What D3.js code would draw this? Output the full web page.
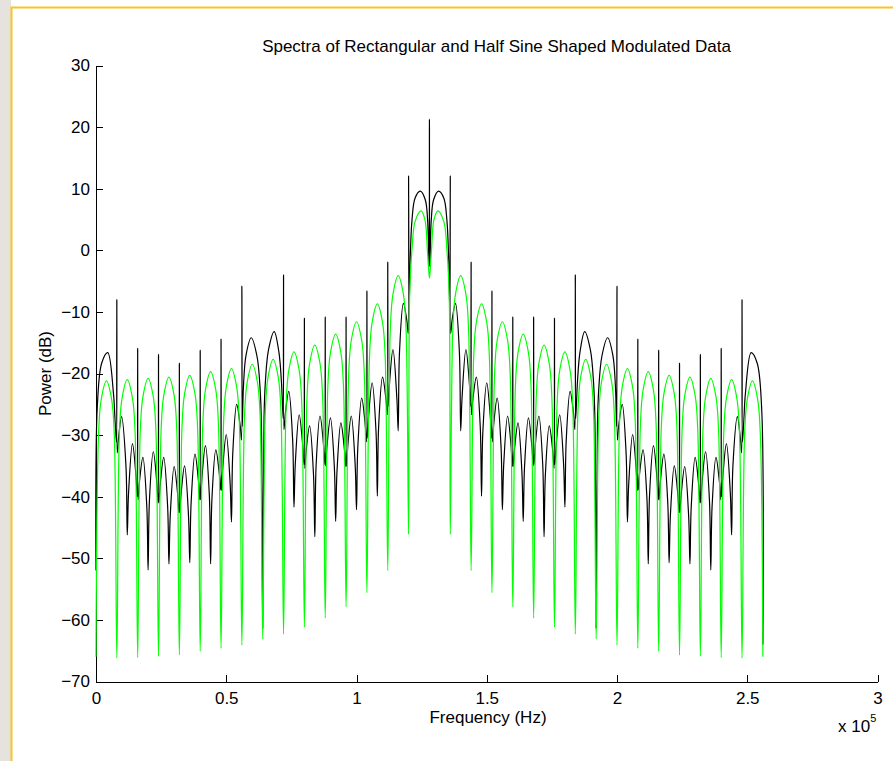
<!DOCTYPE html>
<html>
<head>
<meta charset="utf-8">
<script src="https://cdn.jsdelivr.net/npm/d3@7"></script>
<style>
  body { margin: 0; background: #fff; }
  svg { display: block; font-family: "Liberation Sans", Arial, Helvetica, sans-serif; }
  .axis text { font-size: 17px; fill: #000; }
  .axis path, .axis line { stroke: #000; }
</style>
</head>
<body>
<svg width="893" height="761"></svg>
<script>
// frequencies in kHz, power in dB
const rectFreq = [
  0, 0.5, 2.2, 4.5, 6.7, 7.3,
  7.85, 8, 8.15, 8.65, 9.8, 11.5, 12, 12.5, 14, 15.35,
  15.85, 16, 16.15, 16.65, 18, 19.5, 20, 20.5, 22, 23.35,
  23.85, 24, 24.15, 24.65, 26, 27.5, 28, 28.5, 30, 31.35,
  31.85, 32, 32.15, 32.65, 34, 35.5, 36, 36.5, 38, 39.35,
  39.85, 40, 40.15, 40.65, 42, 43.5, 44, 44.5, 46, 47.35,
  47.85, 48, 48.15, 48.65, 50, 51.5, 52, 52.5, 54, 55.35,
  55.85, 56, 56.15, 56.6, 57.6, 59.6, 61.8, 63, 63.5, 64,
  64.5, 65, 66.2, 68.4, 70.2, 71.2,
  71.85, 72, 72.15, 72.65, 74, 75.5, 76, 76.5, 78, 79.35,
  79.85, 80, 80.15, 80.65, 82, 83.5, 84, 84.5, 86, 87.35,
  87.85, 88, 88.15, 88.65, 90, 91.5, 92, 92.5, 94, 95.35,
  95.85, 96, 96.15, 96.65, 98, 99.5, 100, 100.5, 102, 103.35,
  103.85, 104, 104.15, 104.65, 106, 107.5, 108, 108.5, 110, 111.35,
  111.85, 112, 112.15, 112.65, 114, 115.5, 116, 116.5, 118, 119.35,
  119.85, 120, 120.15, 120.6, 121.3, 122.5, 124.5, 126.4, 127.3,
  127.85, 128, 128.15,
  128.7, 129.6, 131.5, 133.5, 134.7, 135.4,
  135.85, 136, 136.15, 136.65, 138, 139.5, 140, 140.5, 142, 143.35,
  143.85, 144, 144.15, 144.65, 146, 147.5, 148, 148.5, 150, 151.35,
  151.85, 152, 152.15, 152.65, 154, 155.5, 156, 156.5, 158, 159.35,
  159.85, 160, 160.15, 160.65, 162, 163.5, 164, 164.5, 166, 167.35,
  167.85, 168, 168.15, 168.65, 170, 171.5, 172, 172.5, 174, 175.35,
  175.85, 176, 176.15, 176.65, 178, 179.5, 180, 180.5, 182, 183.35,
  183.85, 184, 184.15, 184.8, 185.8, 187.6, 189.8, 191, 191.5,
  192, 192.5, 193, 194.2, 196.4, 198.4, 199.4,
  199.85, 200, 200.15, 200.65, 202, 203.5, 204, 204.5, 206, 207.35,
  207.85, 208, 208.15, 208.65, 210, 211.5, 212, 212.5, 214, 215.35,
  215.85, 216, 216.15, 216.65, 218, 219.5, 220, 220.5, 222, 223.35,
  223.85, 224, 224.15, 224.65, 226, 227.5, 228, 228.5, 230, 231.35,
  231.85, 232, 232.15, 232.65, 234, 235.5, 236, 236.5, 238, 239.35,
  239.85, 240, 240.15, 240.65, 242, 243.5, 244, 244.5, 246.2, 247.35,
  247.85, 248, 248.15, 248.7, 249.3, 251.5, 253.8, 255.5, 256
];
const rectPower = [
  -52, -25.4, -18.3, -16.6, -23.2, -27.5,
  -31.1, -8.0, -32.9, -30.5, -27.0, -35.0, -46.2, -39.4, -31.4, -36.6,
  -40.0, -15.9, -40.5, -37.7, -33.6, -41.6, -51.9, -40.7, -32.7, -37.7,
  -41.0, -16.9, -41.0, -38.0, -33.6, -41.6, -50.9, -43.1, -35.1, -39.6,
  -42.6, -18.3, -42.6, -39.6, -35.0, -43.0, -50.7, -41.1, -33.1, -37.5,
  -40.5, -16.2, -40.5, -37.0, -31.7, -39.7, -50.9, -40.4, -32.4, -36.3,
  -38.9, -14.4, -39.0, -35.4, -29.9, -37.9, -44.1, -33.0, -25.0, -28.5,
  -30.8, -5.8, -28.6, -22.1, -17.0, -14.2, -17.2, -22.5, -28.2, -61.3,
  -27.2, -21.5, -16.2, -13.2, -16.5, -21.5,
  -27.3, -4.0, -29.1, -26.6, -22.9, -30.9, -41.7, -34.7, -26.7, -31.6,
  -34.8, -11.0, -35.4, -32.6, -28.5, -36.5, -46.5, -34.9, -26.9, -31.6,
  -34.8, -10.8, -35.0, -31.9, -27.2, -35.2, -44.0, -36.0, -28.0, -32.3,
  -35.1, -10.8, -35.1, -31.8, -26.9, -34.9, -42.1, -32.0, -24.0, -28.3,
  -31.1, -6.6, -30.5, -26.9, -21.5, -29.5, -39.9, -28.6, -20.6, -24.3,
  -26.7, -1.9, -25.4, -21.7, -16.1, -24.1, -29.3, -16.6, -8.6, -11.5,
  -13.5, 12.1, -10.2, -1.6, 4.9, 8.5, 9.6, 8.2, 4.9,
  -2.6, 21.3, -2.6,
  4.9, 8.2, 9.6, 8.5, 4.9, -1.6,
  -10.2, 12.1, -13.5, -11.5, -8.6, -16.6, -29.3, -24.1, -16.1, -21.7,
  -25.4, -1.9, -26.7, -24.3, -20.6, -28.6, -39.9, -29.5, -21.5, -26.9,
  -30.5, -6.6, -31.1, -28.3, -24.0, -32.0, -42.1, -34.9, -26.9, -31.8,
  -35.1, -10.8, -35.1, -32.3, -28.0, -36.0, -44.0, -35.2, -27.2, -31.9,
  -35.0, -10.8, -34.8, -31.6, -26.9, -34.9, -46.5, -36.5, -28.5, -32.6,
  -35.4, -11.0, -34.8, -31.6, -26.7, -34.7, -41.7, -30.9, -22.9, -26.6,
  -29.1, -4.0, -27.3, -21.5, -16.5, -13.2, -16.2, -21.5, -27.2,
  -61.3, -28.2, -22.5, -17.2, -14.2, -17.0, -22.1,
  -28.6, -5.8, -30.8, -28.5, -25.0, -33.0, -44.1, -37.9, -29.9, -35.4,
  -39.0, -14.4, -38.9, -36.3, -32.4, -40.4, -50.9, -39.7, -31.7, -37.0,
  -40.5, -16.2, -40.5, -37.5, -33.1, -41.1, -50.7, -43.0, -35.0, -39.6,
  -42.6, -18.3, -42.6, -39.6, -35.1, -43.1, -50.9, -41.6, -33.6, -38.0,
  -41.0, -16.9, -41.0, -37.7, -32.7, -40.7, -51.9, -41.6, -33.6, -37.7,
  -40.5, -15.9, -40.0, -36.6, -31.4, -39.4, -46.2, -35.0, -27.0, -30.5,
  -32.9, -8.0, -31.1, -27.5, -23.2, -16.6, -18.3, -25.4, -64
];
const halfSineFreq = [
  0, 1, 2, 4, 6, 7, 8, 9, 10, 12, 14, 15, 16, 17, 18, 20, 22, 23,
  24, 25, 26, 28, 30, 31, 32, 33, 34, 36, 38, 39, 40, 41, 42, 44, 46, 47,
  48, 49, 50, 52, 54, 55, 56, 57, 58, 60, 62, 63, 64, 65, 66, 68, 70, 71,
  72, 73, 74, 76, 78, 79, 80, 81, 82, 84, 86, 87, 88, 89, 90, 92, 94, 95,
  96, 97, 98, 100, 102, 103, 104, 105, 106, 108, 110, 111, 112, 113, 114, 116, 118, 119,
  120, 120.4, 121.3, 122.5, 124.8, 126.3, 127.2, 127.6, 128,
  128.4, 128.8, 129.7, 131.2, 133.5, 134.7, 135.6,
  136, 137, 138, 140, 142, 143, 144, 145, 146, 148, 150, 151, 152, 153, 154, 156, 158, 159,
  160, 161, 162, 164, 166, 167, 168, 169, 170, 172, 174, 175, 176, 177, 178, 180, 182, 183,
  184, 185, 186, 188, 190, 191, 192, 193, 194, 196, 198, 199, 200, 201, 202, 204, 206, 207,
  208, 209, 210, 212, 214, 215, 216, 217, 218, 220, 222, 223, 224, 225, 226, 228, 230, 231,
  232, 233, 234, 236, 238, 239, 240, 241, 242, 244, 246, 247, 248, 249, 250, 252, 254, 255, 256
];
const halfSinePower = [
  -66, -29.7, -24.2, -21.2, -24.2, -29.7, -66.2, -29.5, -24.0, -21.0, -24.0, -29.5, -66.1, -29.3, -23.8, -20.8, -23.8, -29.3,
  -65.9, -29.1, -23.6, -20.6, -23.6, -29.1, -65.7, -28.8, -23.3, -20.3, -23.3, -28.8, -65.1, -28.2, -22.7, -19.7, -22.7, -28.2,
  -64.6, -27.7, -22.2, -19.2, -22.2, -27.7, -64.1, -27.0, -21.5, -18.5, -21.5, -27.0, -63.1, -26.2, -20.7, -17.7, -20.7, -26.2,
  -62.3, -25.0, -19.5, -16.5, -19.5, -25.0, -61.2, -23.9, -18.4, -15.4, -18.4, -23.9, -59.7, -22.1, -16.6, -13.6, -16.6, -22.1,
  -57.9, -20.1, -14.6, -11.6, -14.6, -20.1, -55.6, -17.2, -11.7, -8.7, -11.7, -17.2, -52.0, -12.6, -7.1, -4.1, -7.1, -12.6,
  -46.1, -7.5, 0.1, 4.7, 6.4, 4.9, 0.1, -2.5, -4.5,
  -2.5, 0.1, 4.9, 6.4, 4.7, 0.1, -7.5,
  -46.1, -12.6, -7.1, -4.1, -7.1, -12.6, -52.0, -17.2, -11.7, -8.7, -11.7, -17.2, -55.6, -20.1, -14.6, -11.6, -14.6, -20.1,
  -57.9, -22.1, -16.6, -13.6, -16.6, -22.1, -59.7, -23.9, -18.4, -15.4, -18.4, -23.9, -61.2, -25.0, -19.5, -16.5, -19.5, -25.0,
  -62.3, -26.2, -20.7, -17.7, -20.7, -26.2, -63.1, -27.0, -21.5, -18.5, -21.5, -27.0, -64.1, -27.7, -22.2, -19.2, -22.2, -27.7,
  -64.6, -28.2, -22.7, -19.7, -22.7, -28.2, -65.1, -28.8, -23.3, -20.3, -23.3, -28.8, -65.7, -29.1, -23.6, -20.6, -23.6, -29.1,
  -65.9, -29.3, -23.8, -20.8, -23.8, -29.3, -66.1, -29.5, -24.0, -21.0, -24.0, -29.5, -66.2, -29.7, -24.2, -21.2, -24.2, -29.7, -66
];
const xTicks = [0, 50, 100, 150, 200, 250, 300];
const xTickLabels = ['0', '0.5', '1', '1.5', '2', '2.5', '3'];
const yTicks = [-70, -60, -50, -40, -30, -20, -10, 0, 10, 20, 30];

const svg = d3.select('svg');

// page frame on the left / top
svg.append('rect').attr('x', 0).attr('y', 0).attr('width', 893).attr('height', 761).attr('fill', '#fff');
svg.append('rect').attr('x', 0).attr('y', 0).attr('width', 11).attr('height', 761).attr('fill', '#e6e3df');
svg.append('path')
  .attr('d', 'M11.5,761V7.5H893')
  .attr('fill', 'none')
  .attr('stroke', '#f6c624')
  .attr('stroke-width', 2);

const x = d3.scaleLinear().domain([0, 300]).range([96, 877.5]);
const y = d3.scaleLinear().domain([-70, 30]).range([681.5, 65.5]);

svg.append('g')
  .attr('class', 'axis')
  .attr('transform', `translate(0, ${y(-70)})`)
  .call(d3.axisBottom(x)
    .tickValues(xTicks)
    .tickFormat((d, i) => xTickLabels[i])
    .tickSizeInner(-7)
    .tickSizeOuter(0)
    .tickPadding(10));

svg.append('g')
  .attr('class', 'axis')
  .attr('transform', `translate(${x(0)}, 0)`)
  .call(d3.axisLeft(y)
    .tickValues(yTicks)
    .tickFormat(d3.format('d'))
    .tickSizeInner(-7)
    .tickSizeOuter(0)
    .tickPadding(6));

svg.selectAll('.axis path, .axis line').attr('shape-rendering', 'crispEdges');

const line = d3.line()
  .x(d => x(d[0]))
  .y(d => y(d[1]))
  .curve(d3.curveCatmullRom.alpha(0.5));

svg.append('path')
  .datum(rectFreq.map((f, i) => [f, rectPower[i]]))
  .attr('d', line)
  .attr('fill', 'none')
  .attr('stroke', '#000')
  .attr('stroke-width', 1.2);

svg.append('path')
  .datum(halfSineFreq.map((f, i) => [f, halfSinePower[i]]))
  .attr('d', line)
  .attr('fill', 'none')
  .attr('stroke', '#00ff00')
  .attr('stroke-width', 1.2);

svg.append('text')
  .attr('x', 496.5)
  .attr('y', 52)
  .attr('text-anchor', 'middle')
  .attr('font-size', 17)
  .text('Spectra of Rectangular and Half Sine Shaped Modulated Data');

svg.append('text')
  .attr('x', 488)
  .attr('y', 723)
  .attr('text-anchor', 'middle')
  .attr('font-size', 17)
  .text('Frequency (Hz)');

svg.append('text')
  .attr('transform', `translate(51, ${(y(-70) + y(30)) / 2}) rotate(-90)`)
  .attr('text-anchor', 'middle')
  .attr('font-size', 17)
  .text('Power (dB)');

const expo = svg.append('text')
  .attr('x', 838)
  .attr('y', 732)
  .attr('font-size', 17)
  .text('x 10');
expo.append('tspan')
  .attr('dy', -10)
  .attr('font-size', 11)
  .text('5');
</script>
</body>
</html>
